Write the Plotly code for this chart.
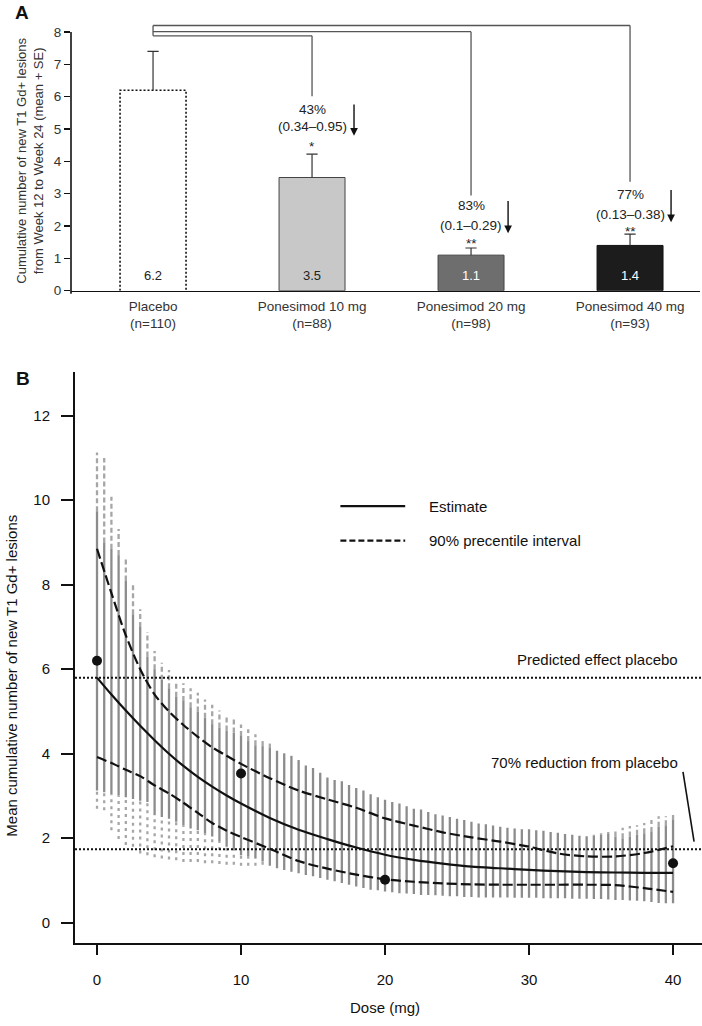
import plotly.graph_objects as go

W, H = 702, 1026
FONT = "Liberation Sans, Arial, Helvetica, sans-serif"

# ---------------- Panel A data ----------------
groups = ["Placebo", "Ponesimod 10 mg", "Ponesimod 20 mg", "Ponesimod 40 mg"]
group_n = ["(n=110)", "(n=88)", "(n=98)", "(n=93)"]
mean_lesions = [6.2, 3.5, 1.1, 1.4]
se_lesions = [1.2, 0.72, 0.22, 0.35]
reduction_pct = ["43%", "83%", "77%"]
reduction_ci = ["(0.34–0.95)", "(0.1–0.29)", "(0.13–0.38)"]
significance = ["*", "**", "**"]

# ---------------- Panel B data ----------------
sim_dose = [0, 0.5, 1, 1.5, 2, 2.5, 3, 3.5, 4, 4.5,
            5, 5.5, 6, 6.5, 7, 7.5, 8, 8.5, 9, 9.5,
            10, 10.5, 11, 11.5, 12, 12.5, 13, 13.5, 14, 14.5,
            15, 15.5, 16, 16.5, 17, 17.5, 18, 18.5, 19, 19.5,
            20, 20.5, 21, 21.5, 22, 22.5, 23, 23.5, 24, 24.5,
            25, 25.5, 26, 26.5, 27, 27.5, 28, 28.5, 29, 29.5,
            30, 30.5, 31, 31.5, 32, 32.5, 33, 33.5, 34, 34.5,
            35, 35.5, 36, 36.5, 37, 37.5, 38, 38.5, 39, 39.5,
            40]
sim_top = [11.13, 11.00, 10.08, 9.32, 8.64, 8.00, 7.42, 6.88, 6.43, 6.15,
           5.98, 5.72, 5.67, 5.55, 5.44, 5.28, 5.16, 5.02, 4.91, 4.81,
           4.69, 4.58, 4.46, 4.34, 4.24, 4.07, 4.01, 3.95, 3.85, 3.72,
           3.66, 3.55, 3.44, 3.38, 3.35, 3.26, 3.19, 3.13, 3.04, 2.97,
           2.91, 2.86, 2.82, 2.76, 2.70, 2.68, 2.62, 2.57, 2.54, 2.50,
           2.46, 2.43, 2.39, 2.35, 2.33, 2.30, 2.27, 2.25, 2.23, 2.21,
           2.21, 2.19, 2.18, 2.15, 2.13, 2.10, 2.08, 2.06, 2.05, 2.08,
           2.12, 2.15, 2.23, 2.25, 2.29, 2.31, 2.36, 2.43, 2.52, 2.52,
           2.60]
sim_upper = [9.74, 9.00, 8.85, 8.70, 8.10, 7.30, 7.00, 6.30, 6.00, 5.75,
             5.55, 5.35, 5.25, 5.10, 5.00, 4.85, 4.70, 4.62, 4.55, 4.50,
             4.42, 4.30, 4.20, 4.18, 4.15, 4.07, 4.01, 3.95, 3.85, 3.72,
             3.66, 3.55, 3.44, 3.38, 3.35, 3.26, 3.19, 3.13, 3.04, 2.97,
             2.91, 2.86, 2.82, 2.76, 2.70, 2.68, 2.62, 2.57, 2.54, 2.50,
             2.46, 2.43, 2.39, 2.35, 2.33, 2.30, 2.27, 2.25, 2.23, 2.21,
             2.21, 2.19, 2.18, 2.15, 2.13, 2.10, 2.08, 2.06, 2.05, 2.06,
             2.08, 2.10, 2.04, 2.00, 2.04, 2.08, 2.12, 2.15, 2.27, 2.31,
             2.43]
sim_lower = [3.13, 3.09, 3.04, 3.01, 2.97, 2.93, 2.89, 2.86, 2.55, 2.50,
             2.46, 2.39, 2.31, 2.23, 2.19, 2.11, 2.04, 1.92, 1.80, 1.72,
             1.60, 1.58, 1.53, 1.45, 1.35, 1.29, 1.25, 1.21, 1.17, 1.13,
             1.10, 1.06, 1.02, 0.98, 0.94, 0.90, 0.86, 0.82, 0.78, 0.77,
             0.74, 0.72, 0.70, 0.69, 0.68, 0.66, 0.66, 0.65, 0.64, 0.63,
             0.63, 0.61, 0.61, 0.60, 0.60, 0.60, 0.60, 0.60, 0.59, 0.59,
             0.59, 0.59, 0.58, 0.58, 0.58, 0.58, 0.57, 0.57, 0.57, 0.56,
             0.56, 0.55, 0.54, 0.54, 0.53, 0.52, 0.51, 0.49, 0.47, 0.46,
             0.46]
sim_bottom = [2.70, 2.66, 2.19, 1.98, 1.84, 1.80, 1.64, 1.60, 1.55, 1.52,
              1.50, 1.48, 1.44, 1.44, 1.44, 1.41, 1.41, 1.39, 1.37, 1.37,
              1.35, 1.35, 1.35, 1.37, 1.35, 1.29, 1.25, 1.21, 1.17, 1.13,
              1.10, 1.06, 1.02, 0.98, 0.94, 0.90, 0.86, 0.82, 0.78, 0.77,
              0.74, 0.72, 0.70, 0.69, 0.68, 0.66, 0.66, 0.65, 0.64, 0.63,
              0.63, 0.61, 0.61, 0.60, 0.60, 0.60, 0.60, 0.60, 0.59, 0.59,
              0.59, 0.59, 0.58, 0.58, 0.58, 0.58, 0.57, 0.57, 0.57, 0.56,
              0.56, 0.55, 0.54, 0.54, 0.53, 0.52, 0.51, 0.49, 0.47, 0.46,
              0.46]

curve_dose = [0, 1, 2, 3, 4, 5, 6, 7, 8, 9, 10, 12, 14, 16, 18, 20,
              22, 24, 26, 28, 30, 32, 34, 36, 38, 40]
estimate = [5.80, 5.40, 5.02, 4.66, 4.32, 4.00, 3.71, 3.45, 3.22, 3.01, 2.82,
            2.48, 2.20, 1.98, 1.78, 1.61, 1.49, 1.40, 1.33, 1.29, 1.25, 1.22,
            1.20, 1.19, 1.18, 1.18]
pi_upper = [8.85, 7.80, 6.80, 6.00, 5.40, 5.00, 4.68, 4.40, 4.15, 3.95, 3.76,
            3.42, 3.13, 2.92, 2.72, 2.47, 2.30, 2.14, 2.02, 1.92, 1.80, 1.64,
            1.57, 1.57, 1.65, 1.81]
pi_lower = [3.92, 3.78, 3.62, 3.47, 3.25, 3.06, 2.84, 2.60, 2.36, 2.18, 2.03,
            1.75, 1.46, 1.28, 1.14, 1.03, 0.97, 0.93, 0.91, 0.90, 0.90, 0.90,
            0.90, 0.89, 0.82, 0.73]
obs_dose = [0, 10, 20, 40]
obs_mean = [6.2, 3.53, 1.02, 1.41]
placebo_pred = 5.8
reduction_frac = 0.70

# ---------------- helpers (pixel layout) ----------------
def px_x(p):
    return p / W

def px_y(p):
    return 1 - p / H

# Panel A geometry
A_left, A_right, A_bottom = 71, 700, 293
A_ppu = 32.6
A_ymax = 8.3
A_top = A_bottom - A_ymax * A_ppu
A_xr = [-0.516, 3.44]
bar_w = 0.415

# Panel B geometry
B_left, B_right, B_top, B_bottom = 75, 702, 375, 950
B_xr = [-1.528, 42.01]
B_yr = [-0.469, 13.03]

fig = go.Figure()

# ---------- Panel A traces ----------
xa = list(range(len(groups)))
fig.add_trace(go.Bar(
    x=xa, y=mean_lesions, width=bar_w,
    marker=dict(color=["#ffffff", "#c8c8c8", "#6e6e6e", "#1c1c1c"],
                line=dict(color=["rgba(0,0,0,0)", "#444444", "#444444", "#111111"], width=1)),
    xaxis="x", yaxis="y", showlegend=False, hoverinfo="skip"))

# dotted outline of placebo bar
fig.add_trace(go.Scatter(
    x=[xa[0] - bar_w / 2, xa[0] - bar_w / 2, xa[0] + bar_w / 2, xa[0] + bar_w / 2],
    y=[0, mean_lesions[0], mean_lesions[0], 0],
    mode="lines", line=dict(color="#111111", width=1.6, dash="2px,2px"),
    xaxis="x", yaxis="y", showlegend=False, hoverinfo="skip"))

# error bars (upper only)
ex, ey = [], []
for i, (m, s) in enumerate(zip(mean_lesions, se_lesions)):
    ex += [i, i, None]
    ey += [m, m + s, None]
fig.add_trace(go.Scatter(x=ex, y=ey, mode="lines", line=dict(color="#333333", width=1.2),
                         xaxis="x", yaxis="y", showlegend=False, hoverinfo="skip"))
fig.add_trace(go.Scatter(x=xa, y=[m + s for m, s in zip(mean_lesions, se_lesions)],
                         mode="markers",
                         marker=dict(symbol="line-ew", size=8, line=dict(color="#333333", width=1.2)),
                         xaxis="x", yaxis="y", showlegend=False, hoverinfo="skip"))

# ---------- Panel B traces ----------
def segs(x, y0, y1):
    xs, ys = [], []
    for d, a, b in zip(x, y0, y1):
        xs += [d, d, None]
        ys += [a, b, None]
    return xs, ys

gx, gy = segs(sim_dose, sim_upper, sim_top)
fig.add_trace(go.Scatter(x=gx, y=gy, mode="lines",
                         line=dict(color="#a6a6a6", width=2.3, dash="5px,3px"),
                         xaxis="x2", yaxis="y2", showlegend=False, hoverinfo="skip"))
gx, gy = segs(sim_dose, sim_bottom, sim_lower)
fig.add_trace(go.Scatter(x=gx, y=gy, mode="lines",
                         line=dict(color="#a6a6a6", width=2.3, dash="3px,4px"),
                         xaxis="x2", yaxis="y2", showlegend=False, hoverinfo="skip"))
gx, gy = segs(sim_dose, sim_lower, sim_upper)
fig.add_trace(go.Scatter(x=gx, y=gy, mode="lines",
                         line=dict(color="#8c8c8c", width=2.3),
                         xaxis="x2", yaxis="y2", showlegend=False, hoverinfo="skip"))

fig.add_trace(go.Scatter(x=curve_dose, y=pi_upper, mode="lines",
                         line=dict(color="#111111", width=2.2, dash="10px,4px", shape="spline", smoothing=0.8),
                         xaxis="x2", yaxis="y2", showlegend=False, hoverinfo="skip"))
fig.add_trace(go.Scatter(x=curve_dose, y=pi_lower, mode="lines",
                         line=dict(color="#111111", width=2.2, dash="10px,4px", shape="spline", smoothing=0.8),
                         xaxis="x2", yaxis="y2", showlegend=False, hoverinfo="skip"))
fig.add_trace(go.Scatter(x=curve_dose, y=estimate, mode="lines",
                         line=dict(color="#111111", width=2.2, shape="spline", smoothing=0.8),
                         xaxis="x2", yaxis="y2", showlegend=False, hoverinfo="skip"))
fig.add_trace(go.Scatter(x=obs_dose, y=obs_mean, mode="markers",
                         marker=dict(color="#111111", size=10),
                         xaxis="x2", yaxis="y2", showlegend=False, hoverinfo="skip"))

# ---------- shapes ----------
shapes = []
# Panel A y axis line (0 to 8)
shapes.append(dict(type="line", xref="paper", yref="paper",
                   x0=px_x(A_left), x1=px_x(A_left),
                   y0=px_y(A_bottom + 3), y1=px_y(A_bottom - 8 * A_ppu),
                   line=dict(color="#111111", width=1.6)))
# significance brackets
br_col = "#555555"
br_levels = [7.88, 8.01, 8.20]      # for 10, 20, 40 mg
br_drop = [6.01, 2.94, 3.37]
shapes.append(dict(type="line", xref="x", yref="y", x0=0, x1=0, y0=br_levels[0], y1=br_levels[2],
                   line=dict(color=br_col, width=1.3)))
for k in range(3):
    gi = k + 1
    shapes.append(dict(type="line", xref="x", yref="y", x0=0, x1=gi,
                       y0=br_levels[k], y1=br_levels[k], line=dict(color=br_col, width=1.3)))
    shapes.append(dict(type="line", xref="x", yref="y", x0=gi, x1=gi,
                       y0=br_levels[k], y1=br_drop[k], line=dict(color=br_col, width=1.3)))

# Panel B reference lines
for lvl in [placebo_pred, placebo_pred * (1 - reduction_frac)]:
    shapes.append(dict(type="line", xref="x2 domain", yref="y2", x0=0, x1=1, y0=lvl, y1=lvl,
                       line=dict(color="#111111", width=2, dash="2px,2px")))
# pointer line to 70% reduction
shapes.append(dict(type="line", xref="x2", yref="y2", x0=40.69, y0=3.57, x1=41.46, y1=1.92,
                   line=dict(color="#111111", width=1.6)))
# manual legend
shapes.append(dict(type="line", xref="x2", yref="y2", x0=16.9, x1=21.4, y0=9.86, y1=9.86,
                   line=dict(color="#111111", width=2.2)))
shapes.append(dict(type="line", xref="x2", yref="y2", x0=16.9, x1=21.4, y0=9.04, y1=9.04,
                   line=dict(color="#111111", width=2.2, dash="6px,3px")))

# ---------- annotations ----------
ann = []
C = dict(xanchor="center", yanchor="middle", showarrow=False)
# Panel letters
ann.append(dict(text="<b>A</b>", x=px_x(22), y=px_y(13), xref="paper", yref="paper",
                font=dict(size=19, color="#111111"), **C))
ann.append(dict(text="<b>B</b>", x=px_x(23), y=px_y(381), xref="paper", yref="paper",
                font=dict(size=19, color="#111111"), **C))
# Panel A y title
ann.append(dict(text="Cumulative number of new T1 Gd+ lesions<br>from Week 12 to Week 24 (mean + SE)",
                x=px_x(30), y=px_y(162), xref="paper", yref="paper", textangle=-90,
                font=dict(size=13, color="#333333"), **C))
# bar value labels
for i, m in enumerate(mean_lesions):
    ann.append(dict(text=f"{m:.1f}", x=i, y=0, xref="x", yref="y", yshift=15,
                    font=dict(size=13, color="#222222" if i < 2 else "#ffffff"), **C))
# reduction labels
pct_y = [5.61, 2.64, 2.98]
ci_y = [5.09, 2.03, 2.36]
star_y = [4.45, 1.47, 1.84]
arrow_x = [1.264, 2.233, 3.258]
arrow_top = [5.80, 2.82, 3.16]
arrow_bot = [4.79, 1.78, 2.12]
for k in range(3):
    gi = k + 1
    ann.append(dict(text=reduction_pct[k], x=gi, y=pct_y[k], xref="x", yref="y",
                    font=dict(size=13.5, color="#222222"), **C))
    ann.append(dict(text=reduction_ci[k], x=gi, y=ci_y[k], xref="x", yref="y",
                    font=dict(size=13.5, color="#222222"), **C))
    ann.append(dict(text=significance[k], x=gi, y=star_y[k], xref="x", yref="y",
                    font=dict(size=13.5, color="#222222"), **C))
    ann.append(dict(text="", x=arrow_x[k], y=arrow_bot[k], ax=arrow_x[k], ay=arrow_top[k],
                    xref="x", yref="y", axref="x", ayref="y", showarrow=True,
                    arrowhead=2, arrowsize=1.1, arrowwidth=1.4, arrowcolor="#111111", standoff=0))
# Panel B texts
ann.append(dict(text="Mean cumulative number of new T1 Gd+ lesions", x=px_x(12), y=px_y(681),
                xref="paper", yref="paper", textangle=-90,
                font=dict(size=15, color="#111111"), **C))
ann.append(dict(text="Dose (mg)", x=20, y=px_y(1015), xref="x2", yref="paper",
                font=dict(size=15, color="#111111"), **C))
ann.append(dict(text="Estimate", x=22.9, y=9.86, xref="x2", yref="y2", xanchor="left",
                yanchor="middle", showarrow=False, font=dict(size=15, color="#111111")))
ann.append(dict(text="90% precentile interval", x=22.9, y=9.04, xref="x2", yref="y2", xanchor="left",
                yanchor="middle", showarrow=False, font=dict(size=15, color="#111111")))
ann.append(dict(text="Predicted effect placebo", x=40.5, y=6.22, xref="x2", yref="y2", xanchor="right",
                yanchor="middle", showarrow=False, font=dict(size=15, color="#111111")))
ann.append(dict(text="70% reduction from placebo", x=40.5, y=3.80, xref="x2", yref="y2", xanchor="right",
                yanchor="middle", showarrow=False, font=dict(size=15, color="#111111")))

fig.update_layout(
    width=W, height=H,
    margin=dict(l=0, r=0, t=0, b=0),
    paper_bgcolor="#ffffff", plot_bgcolor="rgba(0,0,0,0)",
    font=dict(family=FONT, color="#111111"),
    showlegend=False,
    bargap=0,
    xaxis=dict(domain=[px_x(A_left), px_x(A_right)], range=A_xr, anchor="y",
               tickvals=xa, ticktext=[f"{g}<br>{n}" for g, n in zip(groups, group_n)],
               tickfont=dict(size=13.5, color="#333333"), ticks="", showline=True,
               linecolor="#111111", linewidth=1.6, showgrid=False, zeroline=False,
               ticklabelstandoff=2, fixedrange=True),
    yaxis=dict(domain=[px_y(A_bottom), px_y(A_top)], range=[0, A_ymax], anchor="x",
               tickvals=[0, 1, 2, 3, 4, 5, 6, 7, 8], ticks="outside", ticklen=6,
               tickwidth=1.4, tickcolor="#111111", tickfont=dict(size=13.5, color="#333333"),
               showline=False, showgrid=False, zeroline=False),
    xaxis2=dict(domain=[px_x(B_left), px_x(B_right)], range=B_xr, anchor="y2",
                tickvals=[0, 10, 20, 30, 40], ticks="outside", ticklen=10, tickwidth=2,
                tickcolor="#111111", tickfont=dict(size=15, color="#111111"),
                ticklabelstandoff=12,
                showline=True, linecolor="#111111", linewidth=2, showgrid=False, zeroline=False),
    yaxis2=dict(domain=[px_y(B_bottom), px_y(B_top)], range=B_yr, anchor="x2",
                tickvals=[0, 2, 4, 6, 8, 10, 12], ticks="outside", ticklen=12, tickwidth=2,
                tickcolor="#111111", tickfont=dict(size=15, color="#111111"),
                ticklabelstandoff=8,
                showline=True, linecolor="#111111", linewidth=2, showgrid=False, zeroline=False),
    shapes=shapes,
    annotations=ann,
)

page_fix = (
    "var de=document.documentElement, b=document.body;"
    "de.style.margin='0'; de.style.padding='0'; de.style.overflow='hidden'; de.style.height='1026px';"
    "b.style.margin='0'; b.style.padding='0'; b.style.overflow='hidden'; b.style.height='1026px';"
)
fig.write_html("out.html", config={"displayModeBar": False, "staticPlot": True},
               post_script=page_fix)
